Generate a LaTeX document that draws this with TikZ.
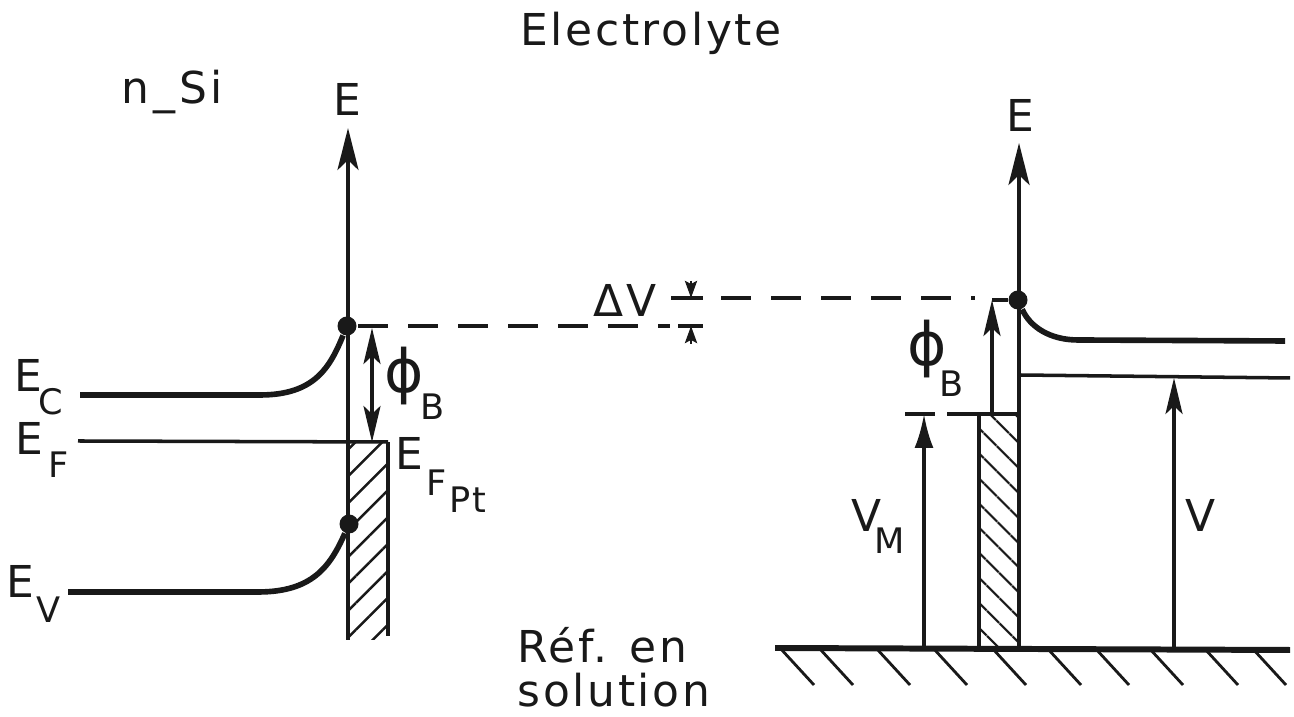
\documentclass[tikz,border=0pt]{standalone}
\usepackage{fontspec}
\setmainfont{DejaVu Sans}[LetterSpace=6]
\usetikzlibrary{arrows.meta,patterns.meta}
\tikzset{
  biglabel/.style={inner sep=0pt, font=\fontsize{12.5}{12.5}\selectfont},
  sublabel/.style={inner sep=0pt, font=\fontsize{10}{10}\selectfont},
  philabel/.style={inner sep=0pt, font=\fontsize{17}{17}\selectfont},
  dot/.style={circle, fill=black!90, inner sep=0pt, minimum size=0.19cm},
  axis/.style={line width=1.2pt, -{Stealth[length=4.2mm,width=2.1mm,inset=1mm]}},
  band/.style={line width=1.6pt},
  levelline/.style={line width=1pt},
  thinarrow/.style={line width=1pt, -{Stealth[length=3.6mm,width=1.7mm,inset=0.8mm]}},
  heavyarrow/.style={line width=1pt, -{Latex[length=3.4mm,width=1.9mm]}},
  dashline/.style={line width=1.1pt, dash pattern=on 0.3cm off 0.2cm},
  metal/.style={line width=1.1pt},
  smalltip/.style={line width=0.8pt, -{Stealth[length=1.7mm,width=1.2mm,inset=0.3mm]}}
}
\begin{document}
\begin{tikzpicture}[black!90]
\useasboundingbox (0,0) rectangle (12.94,7.17);
% titles
\node[biglabel] (title) at (6.51,6.84) {Electrolyte};
\node[biglabel] (nsi) at (1.72,6.25) {n\kern1.2pt\_\kern1.2pt Si};
\node[biglabel, align=left, anchor=north west] (ref) at (5.17,0.90) {Réf. en\\solution};
% left panel
\coordinate (AL0) at (3.48,0.77);
\coordinate (AL1) at (3.48,5.89);
\coordinate (BLa) at (3.88,0.81);
\coordinate (BLb) at (3.88,2.75);
\node[dot] (CBdot) at (3.47,3.91) {};
\node[dot] (VBdot) at (3.49,1.93) {};
\coordinate (ECa) at (0.80,3.22);
\coordinate (ECb) at (2.60,3.22);
\coordinate (EFa) at (0.78,2.76);
\coordinate (EVa) at (0.68,1.25);
\coordinate (EVb) at (2.58,1.25);
\coordinate (DLa) at (3.58,3.91);
\coordinate (DLb) at (6.70,3.91);
\coordinate (PLa) at (3.72,3.89);
\coordinate (PLb) at (3.72,2.75);
\fill[pattern={Lines[angle=45,distance=0.19cm,line width=0.7pt]}, pattern color=black!90] (AL0) rectangle (BLb);
\draw[axis] (AL0) -- (AL1);
\draw[metal] (BLa) -- (BLb);
\draw[band] (ECa) -- (ECb) .. controls (3.15,3.22) and (3.30,3.50) .. (CBdot);
\draw[band] (EVa) -- (EVb) .. controls (3.12,1.25) and (3.30,1.50) .. (VBdot);
\draw[levelline] (EFa) -- (BLb);
\draw[dashline] (DLa) -- (DLb);
\draw[thinarrow, {Stealth[length=3.6mm,width=1.7mm,inset=0.8mm]}-{Stealth[length=3.6mm,width=1.7mm,inset=0.8mm]}] (PLa) -- (PLb);
\node[biglabel] (EL) at (3.47,6.17) {E};
\node[biglabel] (Ec) at (0.28,3.41) {E};
\node[sublabel] (Ecs) at (0.51,3.15) {C};
\node[biglabel] (Ef) at (0.29,2.78) {E};
\node[sublabel] (Efs) at (0.59,2.52) {F};
\node[biglabel] (Ev) at (0.20,1.36) {E};
\node[sublabel] (Evs) at (0.49,1.07) {V};
\node[biglabel] (Efp) at (4.09,2.63) {E};
\node[sublabel] (Efps) at (4.37,2.34) {F};
\node[sublabel] (Efpt) at (4.68,2.17) {Pt};
\node[philabel] (PhiL) at (4.04,3.41) {ϕ};
\node[sublabel] (PhiLs) at (4.33,3.10) {B};
% right panel
\coordinate (GRa) at (7.75,0.69);
\coordinate (GRb) at (12.90,0.67);
\coordinate (AR0) at (10.19,0.69);
\coordinate (AR1) at (10.19,5.74);
\coordinate (BRa) at (9.79,0.69);
\coordinate (BRb) at (10.19,3.03);
\coordinate (BRc) at (9.79,3.03);
\node[dot] (CRdot) at (10.18,4.17) {};
\coordinate (BDa) at (10.78,3.77);
\coordinate (BDb) at (12.85,3.76);
\coordinate (LVa) at (10.19,3.42);
\coordinate (LVb) at (12.90,3.39);
\coordinate (DRa) at (7.21,4.19);
\coordinate (DRb) at (9.75,4.19);
\coordinate (VMa) at (9.24,0.69);
\coordinate (VMb) at (9.24,3.03);
\coordinate (VRa) at (11.74,0.69);
\coordinate (VRb) at (11.74,3.39);
\coordinate (PRa) at (9.92,3.03);
\coordinate (PRb) at (9.92,4.17);
\coordinate (TKa) at (9.05,3.03);
\coordinate (TKb) at (9.35,3.03);
\coordinate (TKc) at (9.47,3.03);
\fill[pattern={Lines[angle=-45,distance=0.18cm,line width=0.7pt]}, pattern color=black!90] (BRa) rectangle (BRb);
\draw[metal] (BRa) -- (BRc);
\draw[axis] (AR0) -- (AR1);
\draw[line width=1.7pt] (GRa) -- (GRb);
\foreach \xs in {7.80,8.19,8.76,9.33,9.92,10.47,10.95,11.49,12.04,12.52}
  \draw[line width=0.8pt] (\xs,0.69) -- ++(0.34,-0.37);
\draw[band] (CRdot) .. controls (10.30,3.90) and (10.50,3.77) .. (BDa) -- (BDb);
\draw[levelline] (LVa) -- (LVb);
\draw[dashline] (DRa) -- (DRb);
\draw[levelline] (PRb) -- (CRdot);
\draw[levelline] (TKa) -- (TKb);
\draw[levelline] (TKc) -- (BRb);
\draw[heavyarrow] (VMa) -- (VMb);
\draw[thinarrow] (VRa) -- (VRb);
\draw[thinarrow] (PRa) -- (PRb);
% delta V mark
\coordinate (DVa) at (6.71,4.19);
\coordinate (DVb) at (7.03,4.19);
\coordinate (DVc) at (6.91,4.36);
\coordinate (DVd) at (6.91,4.19);
\coordinate (DVe) at (6.91,3.73);
\coordinate (DVf) at (6.91,3.91);
\coordinate (DVg) at (6.78,3.91);
\coordinate (DVh) at (7.03,3.91);
\draw[levelline] (DVa) -- (DVb);
\draw[levelline] (DVg) -- (DVh);
\draw[smalltip] (DVc) -- (DVd);
\draw[smalltip] (DVe) -- (DVf);
\node[biglabel] (ER) at (10.20,6.01) {E};
\node[biglabel] (DV) at (6.25,4.16) {ΔV};
\node[philabel] (PhiR) at (9.27,3.68) {ϕ};
\node[sublabel] (PhiRs) at (9.52,3.33) {B};
\node[biglabel] (Vm) at (8.67,2.02) {V};
\node[sublabel] (Vms) at (8.90,1.76) {M};
\node[biglabel] (Vr) at (12.01,2.02) {V};
\end{tikzpicture}
\end{document}
